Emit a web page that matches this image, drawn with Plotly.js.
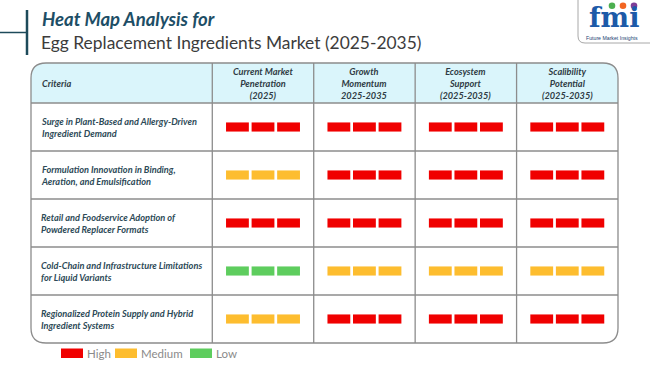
<!DOCTYPE html>
<html>
<head>
<meta charset="utf-8">
<script src="https://cdn.plot.ly/plotly-3.0.1.min.js"></script>
<style>html,body{margin:0;padding:0;background:#fff;}#chart{width:650px;height:365px;}</style>
</head>
<body>
<div id="chart"></div>
<script>
// ---------------- data ----------------
const titleLine1 = "Heat Map Analysis for";
const titleLine2 = "Egg Replacement Ingredients Market (2025-2035)";
const criteriaHeader = "Criteria";
const criteria = [
  "Surge in Plant-Based and Allergy-Driven<br>Ingredient Demand",
  "Formulation Innovation in Binding,<br>Aeration, and Emulsification",
  "Retail and Foodservice Adoption of<br>Powdered Replacer Formats",
  "Cold-Chain and Infrastructure Limitations<br>for Liquid Variants",
  "Regionalized Protein Supply and Hybrid<br>Ingredient Systems"
];
const columns = [
  "Current Market<br>Penetration<br>(2025)",
  "Growth<br>Momentum<br>2025-2035",
  "Ecosystem<br>Support<br>(2025-2035)",
  "Scalibility<br>Potential<br>(2025-2035)"
];
const ratings = [
  ["High", "High", "High", "High"],
  ["Medium", "High", "High", "High"],
  ["High", "High", "High", "High"],
  ["Low", "Medium", "Medium", "Medium"],
  ["Medium", "High", "High", "High"]
];
const levelNames = ["High", "Medium", "Low"];
const levelColors = ["#f00000", "#fdbd2f", "#5ecd5e"];
const segmentsPerCell = 3;

// ---------------- layout helpers (pixel -> axis units) ----------------
const COL0 = 263, COLW = 101.43, ROW0 = 127, ROWH = 48;
const X = p => (p - COL0) / COLW;
const Y = p => (p - ROW0) / ROWH;

const segLen = 0.225, segGap = 0.027;
const segStart = -(segmentsPerCell * segLen + (segmentsPerCell - 1) * segGap) / 2;

const traces = levelNames.map((lvl, li) => {
  const y = [], base = [], x = [];
  ratings.forEach((row, r) => row.forEach((v, c) => {
    if (v !== lvl) return;
    for (let s = 0; s < segmentsPerCell; s++) {
      y.push(r);
      base.push(c + segStart + s * (segLen + segGap));
      x.push(segLen);
    }
  }));
  return {
    type: "bar", orientation: "h", name: lvl,
    y: y, x: x, base: base, width: 0.19,
    marker: {color: levelColors[li], line: {width: 0}},
    hoverinfo: "skip", showlegend: false
  };
});

const L = X(31), R = X(618), T = Y(63), B = 4.5, H = -0.5;
const rx = 15 / COLW, ry = 15 / ROWH;
const lineCol = "#8c8c8c";
const shapes = [];
// header background
shapes.push({type: "path", xref: "x", yref: "y", layer: "below", line: {width: 0}, fillcolor: "#daf5fb",
  path: `M${L},${H} L${L},${T + ry} Q${L},${T} ${L + rx},${T} L${R - rx},${T} Q${R},${T} ${R},${T + ry} L${R},${H} Z`});
// inner horizontal lines
for (let r = 0; r < criteria.length; r++) {
  shapes.push({type: "line", xref: "x", yref: "y", x0: L, x1: R, y0: r - 0.5, y1: r - 0.5, line: {color: lineCol, width: 1.3}});
}
// inner vertical lines
for (let c = 0; c < columns.length; c++) {
  shapes.push({type: "line", xref: "x", yref: "y", x0: c - 0.5, x1: c - 0.5, y0: T, y1: B, line: {color: lineCol, width: 1.3}});
}
// outer rounded border
shapes.push({type: "path", xref: "x", yref: "y", line: {color: lineCol, width: 1.3},
  path: `M${L + rx},${T} L${R - rx},${T} Q${R},${T} ${R},${T + ry} L${R},${B - ry} Q${R},${B} ${R - rx},${B} L${L + rx},${B} Q${L},${B} ${L},${B - ry} L${L},${T + ry} Q${L},${T} ${L + rx},${T} Z`});
// title decoration lines
shapes.push({type: "line", xref: "x", yref: "y", x0: X(27), x1: X(27), y0: Y(10), y1: Y(55), line: {color: "#1d4a5a", width: 2.5}});
shapes.push({type: "line", xref: "x", yref: "y", x0: X(0), x1: X(27), y0: Y(32.5), y1: Y(32.5), line: {color: "#1d4a5a", width: 1.5}});
// logo frame
shapes.push({type: "path", xref: "x", yref: "y", line: {color: "#a8a8a8", width: 1},
  path: `M${X(578)},${Y(0)} L${X(578)},${Y(36)} Q${X(578)},${Y(43)} ${X(585)},${Y(43)} L${X(650)},${Y(43)}`});
// logo dots
[["#4caf50", 612], ["#f26522", 623], ["#7e3f98", 634]].forEach(d => {
  shapes.push({type: "circle", xref: "x", yref: "y", x0: X(d[1] - 3.3), x1: X(d[1] + 3.3), y0: Y(2.5), y1: Y(9), fillcolor: d[0], line: {width: 0}});
});
// legend swatches
const legendX = [61, 115, 190];
levelNames.forEach((n, i) => {
  shapes.push({type: "rect", xref: "x", yref: "y", x0: X(legendX[i]), x1: X(legendX[i] + 22), y0: Y(348.5), y1: Y(358), fillcolor: levelColors[i], line: {width: 0}});
});

const FONT = "Lato, 'Open Sans', sans-serif";
const TFS = 9.2;
const annotations = [];
annotations.push({xref: "x", yref: "y", x: X(40), y: Y(18.5), xanchor: "left", yanchor: "middle", showarrow: false,
  text: "<b><i>" + titleLine1 + "</i></b>", font: {family: FONT, size: 18.5, color: "#1d4e66"}});
annotations.push({xref: "x", yref: "y", x: X(39), y: Y(42), xanchor: "left", yanchor: "middle", showarrow: false,
  text: titleLine2, font: {family: FONT, size: 17.4, color: "#3c3c3c"}});
annotations.push({xref: "x", yref: "y", x: X(40), y: (T + H) / 2, xanchor: "left", yanchor: "middle", showarrow: false,
  text: "<b><i>" + criteriaHeader + "</i></b>", font: {family: FONT, size: TFS, color: "#2f3b44"}});
columns.forEach((c, i) => {
  annotations.push({xref: "x", yref: "y", x: i, y: (T + H) / 2, xanchor: "center", yanchor: "middle", showarrow: false, align: "center",
    text: "<b><i>" + c + "</i></b>", font: {family: FONT, size: TFS, color: "#2f3b44"}});
});
criteria.forEach((c, r) => {
  annotations.push({xref: "x", yref: "y", x: X(39), y: r, xanchor: "left", yanchor: "middle", showarrow: false, align: "left",
    text: "<b><i>" + c + "</i></b>", font: {family: FONT, size: TFS, color: "#2d4a57"}});
});
levelNames.forEach((n, i) => {
  annotations.push({xref: "x", yref: "y", x: X(legendX[i] + 24), y: Y(353.5), xanchor: "left", yanchor: "middle", showarrow: false,
    text: n, font: {family: FONT, size: 11.5, color: "#8a8a8a"}});
});
// logo text
annotations.push({xref: "x", yref: "y", x: X(614), y: Y(17), xanchor: "center", yanchor: "middle", showarrow: false, borderpad: 0,
  text: "<b>fmi</b>", font: {family: "'DejaVu Serif', serif", size: 27, color: "#1c5aa8"}});
annotations.push({xref: "x", yref: "y", x: X(612), y: Y(37.5), xanchor: "center", yanchor: "middle", showarrow: false, borderpad: 0,
  text: "Future Market Insights", font: {family: "'Liberation Sans', sans-serif", size: 5.2, color: "#1c3f73"}});

const layout = {
  width: 650, height: 365,
  margin: {l: 0, r: 0, t: 0, b: 0},
  paper_bgcolor: "#ffffff", plot_bgcolor: "#ffffff",
  barmode: "overlay",
  showlegend: false,
  xaxis: {range: [X(0), X(650)], visible: false, fixedrange: true},
  yaxis: {range: [Y(365), Y(0)], visible: false, fixedrange: true},
  shapes: shapes,
  annotations: annotations
};

Plotly.newPlot("chart", traces, layout, {displayModeBar: false, staticPlot: true});
</script>
</body>
</html>
